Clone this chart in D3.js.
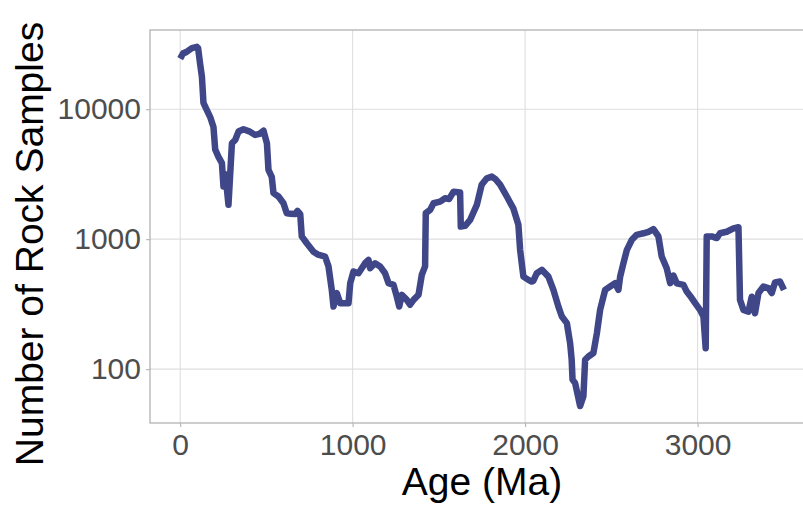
<!DOCTYPE html>
<html>
<head>
<meta charset="utf-8">
<script src="https://cdn.jsdelivr.net/npm/d3@7"></script>
<style>
  body { margin: 0; background: #fff; }
  svg text { font-family: 'Liberation Sans', Arial, Helvetica, sans-serif; }
</style>
</head>
<body>
<svg id="chart" width="803" height="508"></svg>
<script>
// ages in Ma
const ages = [
  0, 17, 35, 68, 97, 104, 115, 126, 135, 154, 174, 193, 203, 222, 242, 251, 262, 280,
  300, 319, 338, 367, 400, 435, 460, 483, 503, 512, 531, 541, 570, 599, 618, 640, 667,
  680, 696, 705, 734, 773, 800, 840, 860, 879, 889, 908, 928, 976, 986, 1005, 1034,
  1072, 1092, 1101, 1130, 1159, 1188, 1208, 1237, 1256, 1270, 1285, 1314, 1333, 1353,
  1382, 1401, 1420, 1424, 1449, 1469, 1507, 1536, 1560, 1585, 1623, 1627, 1652, 1681,
  1720, 1748, 1778, 1807, 1830, 1855, 1894, 1932, 1961, 1971, 1990, 2019, 2038, 2048,
  2068, 2097, 2135, 2164, 2193, 2213, 2242, 2261, 2270, 2275, 2290, 2319, 2338, 2348,
  2367, 2396, 2416, 2435, 2464, 2493, 2522, 2541, 2551, 2570, 2590, 2619, 2647, 2686,
  2715, 2744, 2773, 2792, 2821, 2841, 2860, 2879, 2918, 2937, 2966, 2986, 3014, 3034,
  3047, 3053, 3082, 3111, 3130, 3169, 3208, 3237, 3246, 3266, 3295, 3314, 3333, 3353,
  3382, 3411, 3430, 3449, 3478, 3501
]
// number of rock samples at each age
const samples = [
  24500, 26900, 27500, 29500, 30200, 29500, 22600, 17800, 11200, 9900, 8700, 7300, 4900,
  4300, 3850, 2540, 3160, 1840, 5470, 5800, 6730, 7010, 6760, 6340, 6460, 6840, 5470,
  3410, 3020, 2260, 2130, 1890, 1580, 1570, 1560, 1650, 1560, 1050, 930, 800, 760, 735,
  617, 407, 303, 385, 322, 322, 459, 564, 547, 653, 692, 598, 653, 617, 547, 459, 445,
  361, 303, 373, 341, 313, 341, 373, 532, 617, 1585, 1680, 1890, 1945, 2065, 2040, 2320,
  2290, 1250, 1265, 1405, 1835, 2620, 2940, 3030, 2880, 2630, 2130, 1720, 1290, 828, 515,
  486, 472, 479, 547, 581, 515, 407, 303, 254, 226, 158, 118, 83, 78, 52, 62, 118, 125,
  133, 189, 286, 407, 432, 459, 407, 515, 653, 828, 989, 1080, 1110, 1140, 1195, 1050,
  735, 598, 459, 525, 457, 445, 395, 352, 322, 286, 254, 145, 1050, 1050, 1020, 1110,
  1140, 1210, 1235, 341, 286, 277, 361, 269, 385, 432, 420, 385, 465, 472, 407
]
const xTicks = [0, 1000, 2000, 3000]
const yTicks = [100, 1000, 10000]

const lineColor = '#3f4788'
const panel = { left: 150, right: 814, top: 30, bottom: 423 }

const svg = d3.select('#chart')

const x =
  d3.scaleLinear()
    .domain([-175, 3675])
    .range([panel.left, panel.right])

const y =
  d3.scaleLog()
    .domain([38.5, 40700])
    .range([panel.bottom, panel.top])

// gridlines
svg.append('g')
  .selectAll('line')
  .data(xTicks)
  .join('line')
    .attr('x1', d => x(d))
    .attr('x2', d => x(d))
    .attr('y1', panel.top)
    .attr('y2', panel.bottom)
    .attr('stroke', '#dedede')
    .attr('stroke-width', 1.1)

svg.append('g')
  .selectAll('line')
  .data(yTicks)
  .join('line')
    .attr('x1', panel.left)
    .attr('x2', panel.right)
    .attr('y1', d => y(d))
    .attr('y2', d => y(d))
    .attr('stroke', '#dedede')
    .attr('stroke-width', 1.1)

// axes
const xAxis =
  d3.axisBottom(x)
    .tickValues(xTicks)
    .tickSize(4)
    .tickPadding(6)
    .tickFormat(d3.format('d'))

const yAxis =
  d3.axisLeft(y)
    .tickValues(yTicks)
    .tickSize(4)
    .tickPadding(5)
    .tickFormat(d3.format('d'))

const gx = svg.append('g')
  .attr('transform', `translate(0, ${panel.bottom})`)
  .call(xAxis)

const gy = svg.append('g')
  .attr('transform', `translate(${panel.left}, 0)`)
  .call(yAxis)

for (const g of [gx, gy]) {
  g.select('.domain').remove()
  g.selectAll('.tick line').attr('stroke', '#b3b3b3').attr('stroke-width', 1.1)
  g.selectAll('.tick text')
    .attr('fill', '#4d4d4d')
    .style('font-size', '30px')
}
gx.selectAll('.tick text').attr('dy', '0.72em')

// panel border
svg.append('rect')
  .attr('x', panel.left)
  .attr('y', panel.top)
  .attr('width', panel.right - panel.left)
  .attr('height', panel.bottom - panel.top)
  .attr('fill', 'none')
  .attr('stroke', '#b3b3b3')
  .attr('stroke-width', 1.3)

// the series
const line =
  d3.line()
    .x((d, i) => x(ages[i]))
    .y(d => y(d))

svg.append('path')
  .datum(samples)
  .attr('fill', 'none')
  .attr('stroke', lineColor)
  .attr('stroke-width', 6.5)
  .attr('stroke-linejoin', 'round')
  .attr('d', line)

// axis titles
svg.append('text')
  .attr('x', (panel.left + panel.right) / 2)
  .attr('y', 495)
  .attr('text-anchor', 'middle')
  .style('font-size', '39px')
  .attr('fill', '#000')
  .text('Age (Ma)')

svg.append('text')
  .attr('transform', 'translate(43, 244) rotate(-90)')
  .attr('text-anchor', 'middle')
  .style('font-size', '39px')
  .attr('fill', '#000')
  .text('Number of Rock Samples')
</script>
</body>
</html>
